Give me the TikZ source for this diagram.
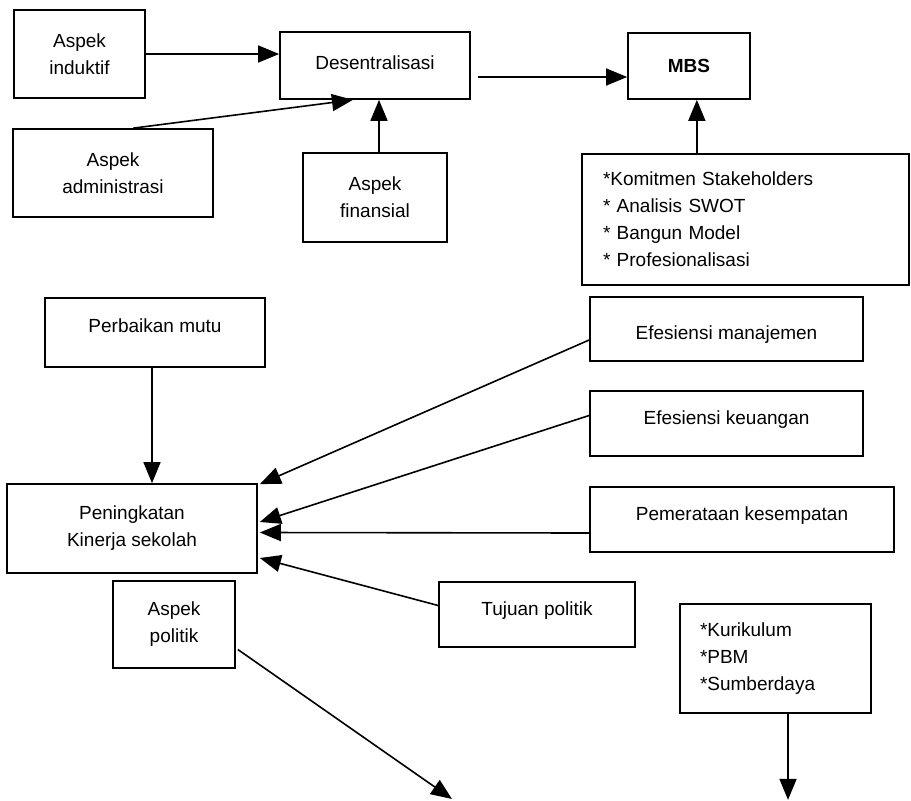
\documentclass[tikz,border=0pt]{standalone}
\usepackage{fontspec}
\setmainfont{Liberation Sans}
\usetikzlibrary{arrows.meta,calc}
\begin{document}
\begin{tikzpicture}[x=1pt,y=-1pt,
  box/.style={draw,line width=1.7pt,inner sep=0pt,align=center,font=\fontsize{19}{27}\selectfont},
  lift/.style={align=none,text height=14pt,text depth=#1},
  conn/.style={line width=1.6pt,-{Triangle[length=21pt,width=17pt]}}]
\useasboundingbox (0,0) rectangle (911,801);
% top part
\node[box,minimum width=131pt,minimum height=88pt] (ind) at (79.5,54) {Aspek\\induktif};
\node[box,lift=7pt,minimum width=190pt,minimum height=67pt] (des) at (375,65.5) {Desentralisasi};
\node[box,minimum width=200pt,minimum height=88pt] (adm) at (113,173) {Aspek\\administrasi};
\node[box,minimum width=144pt,minimum height=89pt] (fin) at (375,197.5) {Aspek\\finansial};
\node[box,minimum width=122pt,minimum height=66pt] (mbs) at (689,66) {\textbf{MBS}};
\node[box,minimum width=327pt,minimum height=131pt,align=left,text width=285pt,inner xsep=21pt] (stk) at (745.5,219.5)
  {*Komitmen Stakeholders\\{}* Analisis SWOT\\{}* Bangun Model\\{}* Profesionalisasi};
% lower part
\node[box,lift=14pt,minimum width=220pt,minimum height=69pt] (perb) at (155,332.5) {Perbaikan mutu};
\node[box,align=none,text height=20pt,text depth=0pt,minimum width=273pt,minimum height=64pt] (efm) at (726.5,329) {Efesiensi manajemen};
\node[box,lift=13pt,minimum width=273pt,minimum height=65pt] (efk) at (726.5,423.5) {Efesiensi keuangan};
\node[box,lift=13pt,minimum width=304pt,minimum height=65pt] (pem) at (742,519.5) {Pemerataan kesempatan};
\node[box,minimum width=250pt,minimum height=89pt] (pen) at (132,528.5) {Peningkatan\\Kinerja sekolah};
\node[box,lift=13pt,minimum width=196pt,minimum height=65pt] (tuj) at (537,614.5) {Tujuan politik};
\node[box,minimum width=122pt,minimum height=87pt] (apo) at (174,624.5) {Aspek\\politik};
\node[box,minimum width=191pt,minimum height=109pt,align=left,text width=151pt,inner xsep=20pt] (kur) at (775.5,658.5)
  {*Kurikulum\\{}*PBM\\{}*Sumberdaya};
% coordinates
\coordinate (admT) at ($(adm.north west)!0.6!(adm.north east)$);
\coordinate (desB) at ($(des.south west)!0.385!(des.south east)$);
\coordinate (finT) at ($(fin.north)+(4,0)$);
\coordinate (dm) at ($(des.east)+(7,11.5)$);
\coordinate (stkT) at ($(stk.north west)!0.352!(stk.north east)$);
\coordinate (perbB) at ($(perb.south)+(-3,0)$);
\coordinate (efmS) at ($(efm.west)+(0,11)$);
\coordinate (efkS) at ($(efk.west)+(0,-8)$);
\coordinate (pemS) at ($(pem.west)+(0,13.5)$);
\coordinate (tujS) at ($(tuj.west)+(0,-9)$);
\coordinate (penA) at ($(pen.north east)+(2,1)$);
\coordinate (penB) at ($(pen.east)+(2,-6.5)$);
\coordinate (penC) at ($(pen.east)+(2,4)$);
\coordinate (penD) at ($(pen.east)+(2,29.5)$);
\coordinate (apoS) at ($(apo.east)+(2,25)$);
\coordinate (endA) at (452,799);
\coordinate (kurB) at ($(kur.south west)!0.565!(kur.south east)$);
\coordinate (endB) at ($(kurB)+(0,86)$);
% connectors
\draw[conn] (ind.east) -- (ind.east -| des.west);
\draw[conn] (admT) -- (desB);
\draw[conn] (finT) -- (finT |- des.south);
\draw[conn] (dm) -- (dm -| mbs.west);
\draw[conn] (stkT) -- (stkT |- mbs.south);
\draw[conn] (perbB) -- (perbB |- pen.north);
\draw[conn] (efmS) -- (penA);
\draw[conn] (efkS) -- (penB);
\draw[conn] (pemS) -- (penC);
\draw[conn] (tujS) -- (penD);
\draw[conn] (apoS) -- (endA);
\draw[conn] (kurB) -- (endB);
\end{tikzpicture}
\end{document}
